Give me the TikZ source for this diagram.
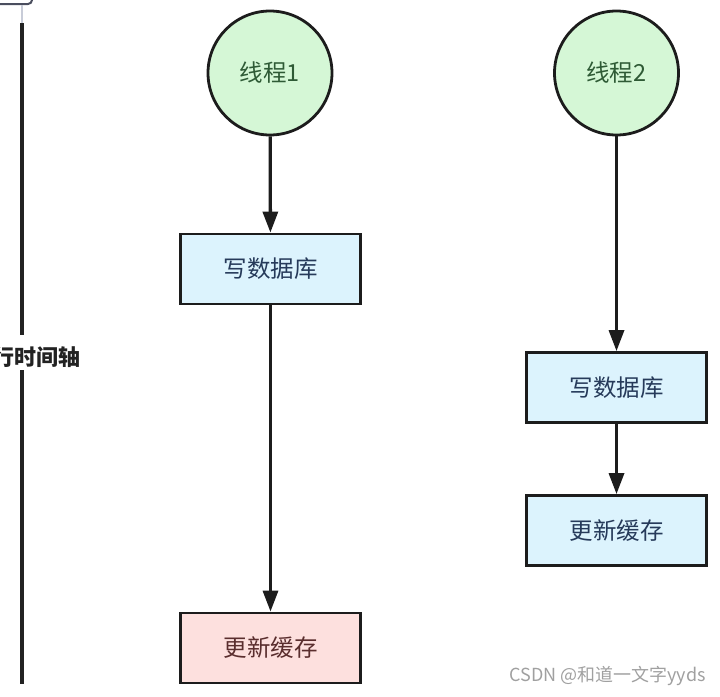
\documentclass[tikz,border=0pt]{standalone}
\usepackage{fontspec}
\newfontfamily\cjk{Noto Sans CJK SC}
\usetikzlibrary{arrows.meta}
\definecolor{threadgreen}{HTML}{D5F7D6}
\definecolor{threadtext}{HTML}{2E5A35}
\definecolor{boxblue}{HTML}{DCF3FD}
\definecolor{boxtext}{HTML}{263A5A}
\definecolor{boxred}{HTML}{FDE0DE}
\definecolor{redtext}{HTML}{5A2E2E}
\definecolor{edgecol}{HTML}{1C1C1C}
\definecolor{axisdark}{HTML}{222222}
\definecolor{axislight}{HTML}{C8CCD8}
\definecolor{bracketcol}{HTML}{4A4E5E}
\definecolor{wmcol}{HTML}{A0A0A0}
\begin{document}
\begin{tikzpicture}[x=1pt,y=-1pt,
  thread/.style={circle, draw=edgecol, line width=2.8pt, fill=threadgreen,
    minimum size=124pt, inner sep=0pt, text=threadtext,
    font=\cjk\fontsize{23.5}{27}\selectfont},
  stepbox/.style={rectangle, draw=edgecol, line width=2.8pt, fill=boxblue,
    minimum width=180pt, minimum height=70pt, inner sep=0pt, text=boxtext,
    font=\cjk\fontsize{23.5}{27}\selectfont},
  redbox/.style={stepbox, fill=boxred, text=redtext},
  flow/.style={draw=edgecol, line width=3.3pt, -{Triangle[length=21pt,width=15pt]}},
  axisline/.style={draw=axisdark, line width=3.2pt}
]
\useasboundingbox (0,0) rectangle (720,696);
\begin{scope}
\clip (0,0) rectangle (720,683);
% top bracket
\draw[bracketcol, line width=2pt, rounded corners=4pt] (-10,-6) -- (-10,4) -- (32,4) -- (32,-6);
% time axis
\coordinate (ax0) at (22,5);
\coordinate (ax1) at (22,23);
\coordinate (ax2) at (22,335);
\coordinate (ax3) at (22,370);
\coordinate (ax4) at (22,690);
\draw[axislight, line width=2pt] (ax0) -- (ax1);
\draw[axisline] (ax1) -- (ax2);
\draw[axisline] (ax3) -- (ax4);
\node[anchor=east, inner sep=0pt, text=axisdark, font=\cjk\bfseries\fontsize{22}{26}\selectfont] (axislabel) at (81,357) {行时间轴};
% thread 1
\node[thread] (t1) at (270,73) {线程1};
\node[stepbox] (db1) at (270.5,269) {写数据库};
\node[redbox] (c1) at (270.5,648) {更新缓存};
% thread 2
\node[thread] (t2) at (616.5,73) {线程2};
\node[stepbox] (db2) at (616.5,387.5) {写数据库};
\node[stepbox] (c2) at (616.5,530.5) {更新缓存};
\draw[flow] (t1) -- (db1);
\draw[flow] (db1) -- (c1);
\draw[flow] (t2) -- (db2);
\draw[flow] (db2) -- (c2);
\end{scope}
\node[anchor=east, inner sep=0pt, text=wmcol, font=\cjk\fontsize{18}{20}\selectfont] (wm) at (706,676) {CSDN @和道一文字yyds};
\end{tikzpicture}
\end{document}
